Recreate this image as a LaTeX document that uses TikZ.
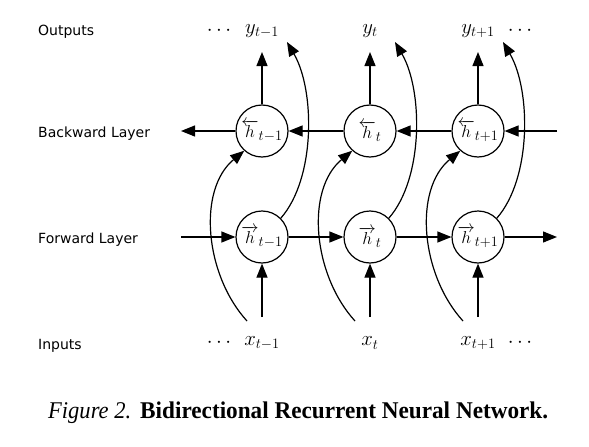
\documentclass[tikz,border=0pt]{standalone}
\usepackage{fontspec}
\setsansfont{DejaVu Sans}
\newfontfamily\capfont{Liberation Serif}
\usetikzlibrary{arrows.meta,calc}
\begin{document}
\begin{tikzpicture}[x=1pt,y=-1pt,
  arr/.style={line width=1.2pt,-{Triangle[length=14pt,width=11pt]}},
  unit/.style={circle,draw,line width=1.2pt,minimum size=52pt,inner sep=0pt,fill=white,font=\fontsize{19}{22}\selectfont},
  lbl/.style={font=\sffamily\fontsize{14}{16}\selectfont,anchor=base west,inner sep=0pt},
  mth/.style={font=\fontsize{19.5}{22}\selectfont,inner sep=0pt},
  captext/.style={font=\capfont\fontsize{24}{28}\selectfont,anchor=base west,inner sep=0pt}]
\useasboundingbox (0,0) rectangle (589,447);
% layer labels
\node[lbl] (lo) at (38,35) {Outputs};
\node[lbl] (lb) at (38,137) {Backward Layer};
\node[lbl] (lf) at (38,243) {Forward Layer};
\node[lbl] (li) at (38,349) {Inputs};
% outputs / inputs
\node[mth] (y1) at (262,31) {$y_{t-1}$};
\node[mth] (y2) at (370,31) {$y_{t}$};
\node[mth] (y3) at (478,31) {$y_{t+1}$};
\node[mth] (yd1) at (219,31) {$\cdots$};
\node[mth] (yd2) at (520,31) {$\cdots$};
\node[mth] (x1) at (262,343) {$x_{t-1}$};
\node[mth] (x2) at (370,343) {$x_{t}$};
\node[mth] (x3) at (478,343) {$x_{t+1}$};
\node[mth] (xd1) at (219,343) {$\cdots$};
\node[mth] (xd2) at (520,343) {$\cdots$};
% units
\node[unit] (b1) at (262,131) {$\overleftarrow{h}_{t-1}$};
\node[unit] (b2) at (370,131) {$\overleftarrow{h}_{t}$};
\node[unit] (b3) at (478,131) {$\overleftarrow{h}_{t+1}$};
\node[unit] (f1) at (262,237) {$\overrightarrow{h}_{t-1}$};
\node[unit] (f2) at (370,237) {$\overrightarrow{h}_{t}$};
\node[unit] (f3) at (478,237) {$\overrightarrow{h}_{t+1}$};
% arrow endpoints
\foreach \i/\x in {1/262,2/370,3/478}{
  \coordinate (yo\i) at (\x,52);
  \coordinate (xi\i) at (\x,317);
  \coordinate (cs\i) at (\x-15,321);
  \coordinate (ce\i) at (\x+25,42);
}
\coordinate (bl) at (181,131);
\coordinate (br) at (557,131);
\coordinate (fl) at (181,237);
\coordinate (fr) at (557,237);
% connectors
\foreach \i in {1,2,3}{
  \draw[arr] (cs\i) .. controls ($(cs\i)+(-42,-46)$) and ($(cs\i)+(-50,-131)$) .. (b\i.228);
  \draw[arr] (f\i.45) .. controls ($(f\i.45)+(35,-40)$) and ($(ce\i)+(28,48)$) .. (ce\i);
  \draw[arr] (b\i) -- (yo\i);
  \draw[arr] (xi\i) -- (f\i);
}
\draw[arr] (br) -- (b3);
\draw[arr] (b3) -- (b2);
\draw[arr] (b2) -- (b1);
\draw[arr] (b1) -- (bl);
\draw[arr] (fl) -- (f1);
\draw[arr] (f1) -- (f2);
\draw[arr] (f2) -- (f3);
\draw[arr] (f3) -- (fr);
% caption
\node[captext] (cap1) at (48,418) {\resizebox{83pt}{\height}{\textit{Figure 2.}}};
\node[captext] (cap2) at (140,418) {\resizebox{408pt}{\height}{\textbf{Bidirectional Recurrent Neural Network.}}};
\end{tikzpicture}
\end{document}
